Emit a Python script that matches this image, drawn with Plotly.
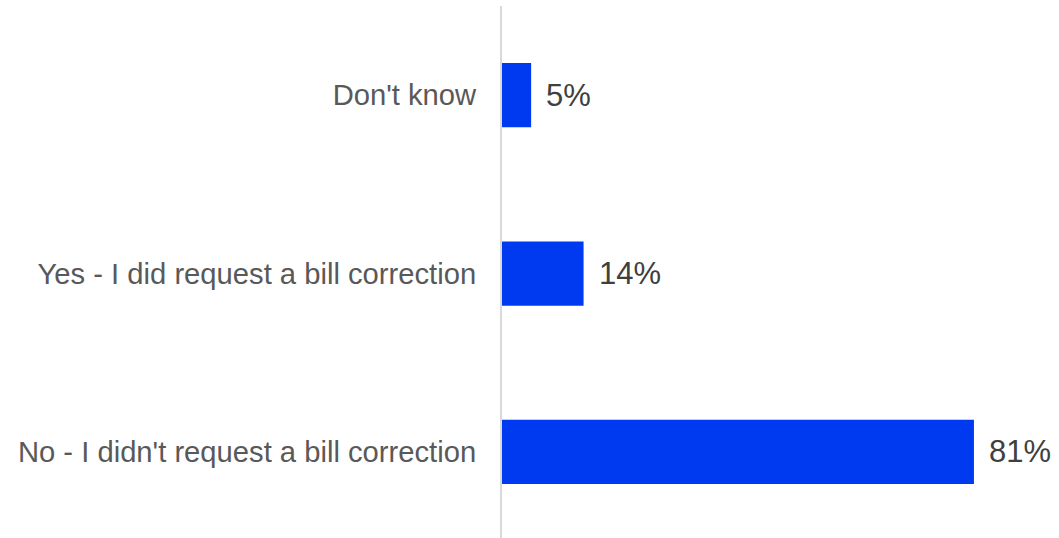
import plotly.graph_objects as go

# Survey responses, listed bottom-to-top
categories = [
    "No - I didn't request a bill correction",
    "Yes - I did request a bill correction",
    "Don't know",
]
shares = [81, 14, 5]
value_labels = [f"{v}%" for v in shares]

BAR_COLOR = "#003AF0"
FONT = "Liberation Sans, Arial, sans-serif"

fig = go.Figure(
    go.Bar(
        x=shares,
        y=categories,
        orientation="h",
        marker=dict(color=BAR_COLOR, line=dict(width=0)),
        width=0.36,
        hoverinfo="skip",
    )
)

# Percentage labels placed just past the end of each bar
for cat, v, lab in zip(categories, shares, value_labels):
    fig.add_annotation(
        x=v, y=cat, text=lab, showarrow=False,
        xanchor="left", yanchor="middle", xshift=13,
        font=dict(family=FONT, size=31, color="#404040"),
    )

fig.update_layout(
    width=1059, height=538,
    margin=dict(l=502, r=0, t=6, b=0),
    paper_bgcolor="white", plot_bgcolor="white",
    showlegend=False,
    font=dict(family=FONT, size=29.2, color="#595959"),
    xaxis=dict(
        range=[0, 95.6], visible=False, fixedrange=True,
    ),
    yaxis=dict(
        range=[-0.482, 2.499],
        showline=True, linecolor="#d9d9d9", linewidth=2,
        showgrid=False, zeroline=False, ticks="",
        ticklabelstandoff=18,
        tickfont=dict(family=FONT, size=29.2, color="#595959"),
        fixedrange=True,
    ),
)

fig.write_html("out.html")
